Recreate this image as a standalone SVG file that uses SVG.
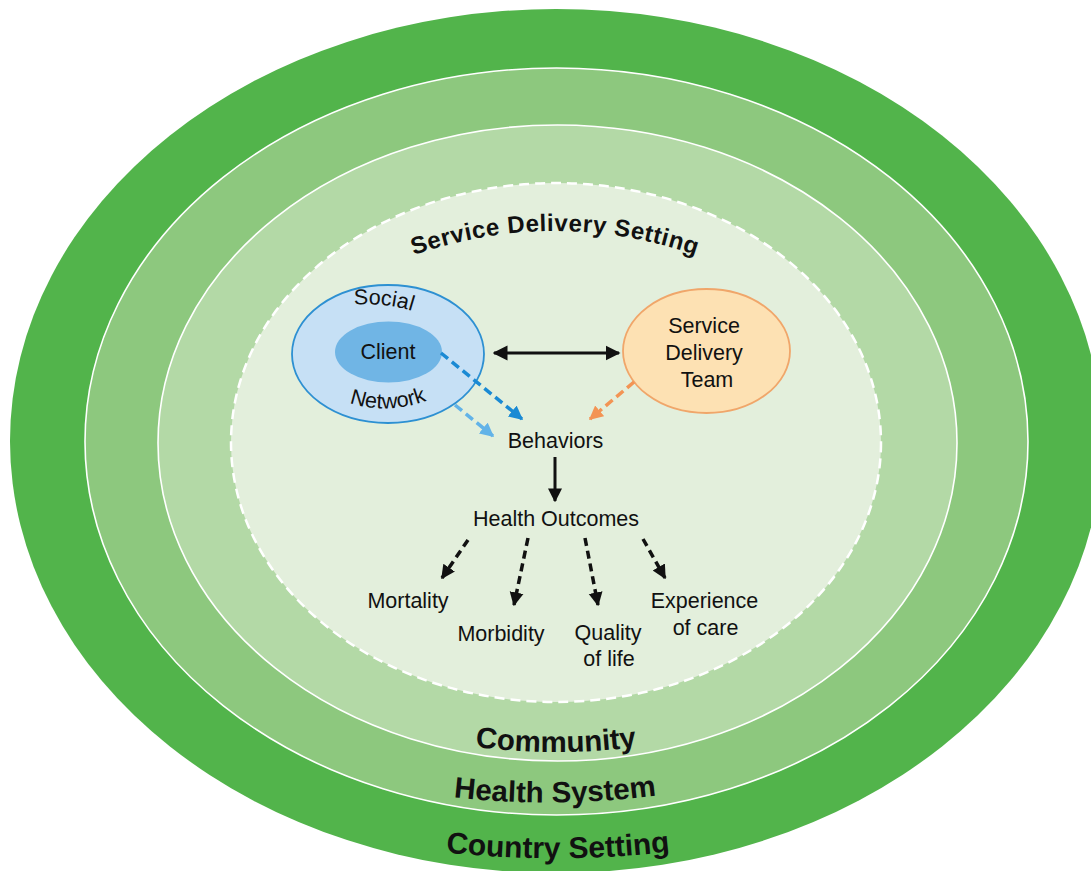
<svg xmlns="http://www.w3.org/2000/svg" xmlns:xlink="http://www.w3.org/1999/xlink" width="1091" height="871" viewBox="0 0 1091 871">
  <style>
    .lbl { font-family: "Liberation Sans", Arial, sans-serif; font-size: 21.5px; fill: #111; }
    .ring-lbl { font-family: "Liberation Sans", Arial, sans-serif; font-weight: bold; fill: #111; }
    .ring-line { stroke: #ffffff; stroke-width: 1.6; }
    .dash-black { fill: none; stroke: #111; stroke-width: 3.5; stroke-dasharray: 8 5; }
    .dash-blue { fill: none; stroke: #1a8ad4; stroke-width: 3.5; stroke-dasharray: 9 5; }
    .dash-lblue { fill: none; stroke: #62b3e8; stroke-width: 3.5; stroke-dasharray: 9 5; }
    .dash-orange { fill: none; stroke: #f39454; stroke-width: 3.5; stroke-dasharray: 9 5; }
    .solid-black { fill: none; stroke: #111; stroke-width: 3; }
  </style>
  <defs>
    <marker id="headBlack" viewBox="0 0 10 10" refX="9" refY="5" markerWidth="15" markerHeight="17" markerUnits="userSpaceOnUse" orient="auto-start-reverse">
      <path d="M0,0 L10,5 L0,10 z" fill="#111"/>
    </marker>
    <marker id="headBlackBig" viewBox="0 0 10 10" refX="9" refY="5" markerWidth="14" markerHeight="20" markerUnits="userSpaceOnUse" orient="auto">
      <path d="M0,0 L10,5 L0,10 z" fill="#111"/>
    </marker>
    <marker id="headDash" viewBox="0 0 10 10" refX="9" refY="5" markerWidth="14" markerHeight="17" markerUnits="userSpaceOnUse" orient="auto">
      <path d="M0,0 L10,5 L0,10 z" fill="#111"/>
    </marker>
    <marker id="headBlue" viewBox="0 0 10 10" refX="9" refY="5" markerWidth="14" markerHeight="15" markerUnits="userSpaceOnUse" orient="auto">
      <path d="M0,0 L10,5 L0,10 z" fill="#1a8ad4"/>
    </marker>
    <marker id="headLBlue" viewBox="0 0 10 10" refX="9" refY="5" markerWidth="14" markerHeight="15" markerUnits="userSpaceOnUse" orient="auto">
      <path d="M0,0 L10,5 L0,10 z" fill="#62b3e8"/>
    </marker>
    <marker id="headOrange" viewBox="0 0 10 10" refX="9" refY="5" markerWidth="14" markerHeight="15" markerUnits="userSpaceOnUse" orient="auto">
      <path d="M0,0 L10,5 L0,10 z" fill="#f39454"/>
    </marker>
    <!-- baselines for curved labels -->
    <path id="arcSDS" d="M 395 262 Q 555 200 715 262"/>
    <path id="arcCommunity" d="M 455 744 Q 556 760 657 744"/>
    <path id="arcHealth" d="M 435 795 Q 555 811 675 793"/>
    <path id="arcCountry" d="M 425 850 Q 558 867 691 849"/>
    <path id="arcSocial" d="M 340 306 Q 390 300 425 316"/>
    <path id="arcNetwork" d="M 338 398 Q 385 420 438 396"/>
  </defs>

  <rect width="1091" height="871" fill="#ffffff"/>

  <!-- nested settings -->
  <g id="country-setting">
    <ellipse cx="556" cy="441" rx="546" ry="432" fill="#52b44b"/>
    <text class="ring-lbl" font-size="30"><textPath href="#arcCountry" startOffset="50%" text-anchor="middle">Country Setting</textPath></text>
  </g>
  <g id="health-system">
    <ellipse class="ring-line" cx="556.5" cy="441.5" rx="471.5" ry="373.5" fill="#8dc87e"/>
    <text class="ring-lbl" font-size="29.5"><textPath href="#arcHealth" startOffset="50%" text-anchor="middle">Health System</textPath></text>
  </g>
  <g id="community">
    <ellipse class="ring-line" cx="557.5" cy="443" rx="399.5" ry="318" fill="#b3d9a6"/>
    <text class="ring-lbl" font-size="29.5"><textPath href="#arcCommunity" startOffset="50%" text-anchor="middle">Community</textPath></text>
  </g>
  <g id="service-delivery-setting">
    <ellipse cx="556" cy="442.5" rx="325" ry="259.5" fill="#e3efdc" stroke="#ffffff" stroke-width="2.5" stroke-dasharray="10 6"/>
    <text class="ring-lbl" font-size="24" letter-spacing="0.6"><textPath href="#arcSDS" startOffset="50%" text-anchor="middle">Service Delivery Setting</textPath></text>
  </g>

  <!-- actors -->
  <g id="social-network">
    <ellipse cx="388" cy="354" rx="96" ry="69" fill="#c6e0f5" stroke="#2d90d2" stroke-width="1.8"/>
    <text class="lbl" font-size="20.5"><textPath href="#arcSocial" startOffset="50%" text-anchor="middle">Social</textPath></text>
    <text class="lbl" font-size="21"><textPath href="#arcNetwork" startOffset="50%" text-anchor="middle">Network</textPath></text>
  </g>
  <g id="client">
    <ellipse cx="388.5" cy="352" rx="53.5" ry="30.5" fill="#70b5e5"/>
    <text class="lbl" x="388" y="359" text-anchor="middle">Client</text>
  </g>
  <g id="service-delivery-team">
    <ellipse cx="706.5" cy="351" rx="83.5" ry="62" fill="#fde1b3" stroke="#f0a66a" stroke-width="1.8"/>
    <text class="lbl" text-anchor="middle">
      <tspan x="707" y="333">Service</tspan>
      <tspan x="707" y="360">Delivery</tspan>
      <tspan x="707" y="387">Team</tspan>
    </text>
  </g>

  <!-- outcomes -->
  <g id="behaviors"><text class="lbl" x="555.5" y="448" text-anchor="middle">Behaviors</text></g>
  <g id="health-outcomes"><text class="lbl" x="556" y="526" text-anchor="middle">Health Outcomes</text></g>
  <g id="mortality"><text class="lbl" x="408" y="608" text-anchor="middle">Mortality</text></g>
  <g id="morbidity"><text class="lbl" x="501" y="641" text-anchor="middle">Morbidity</text></g>
  <g id="quality-of-life">
    <text class="lbl" text-anchor="middle"><tspan x="608" y="640">Quality</tspan><tspan x="609" y="666">of life</tspan></text>
  </g>
  <g id="experience-of-care">
    <text class="lbl" text-anchor="middle"><tspan x="704.5" y="608">Experience</tspan><tspan x="705.5" y="635">of care</tspan></text>
  </g>

  <!-- connectors -->
  <g id="connectors">
    <line class="solid-black" x1="494" y1="353" x2="619" y2="353" marker-start="url(#headBlack)" marker-end="url(#headBlack)"/>
    <line class="dash-blue" x1="441" y1="353" x2="522" y2="419" marker-end="url(#headBlue)"/>
    <line class="dash-lblue" x1="455" y1="405" x2="493" y2="436" marker-end="url(#headLBlue)"/>
    <line class="dash-orange" x1="634" y1="382" x2="590" y2="419" marker-end="url(#headOrange)"/>
    <line class="solid-black" x1="555" y1="457" x2="555" y2="501" stroke-width="3.5" marker-end="url(#headBlackBig)"/>
    <line class="dash-black" x1="468" y1="540" x2="442" y2="578" marker-end="url(#headDash)"/>
    <line class="dash-black" x1="528" y1="538" x2="514" y2="605" marker-end="url(#headDash)"/>
    <line class="dash-black" x1="585" y1="538" x2="598" y2="605" marker-end="url(#headDash)"/>
    <line class="dash-black" x1="643" y1="539" x2="665" y2="578" marker-end="url(#headDash)"/>
  </g>
</svg>
